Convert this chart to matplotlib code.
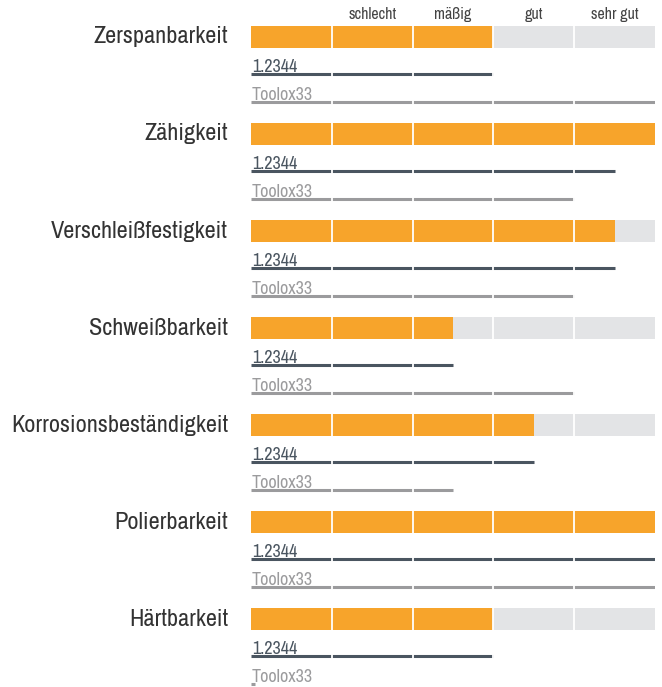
import matplotlib.pyplot as plt
from matplotlib import font_manager as fm

# Bewertungsskala 0..5 (5 Felder)
kategorien = ["Zerspanbarkeit", "Zähigkeit", "Verschleißfestigkeit", "Schweißbarkeit",
              "Korrosionsbeständigkeit", "Polierbarkeit", "Härtbarkeit"]
skala = ["schlecht", "mäßig", "gut", "sehr gut"]
werte_haupt = [3, 5, 4.5, 2.5, 3.5, 5, 3]
werte_12344 = [3, 4.5, 4.5, 2.5, 3.5, 5, 3]
werte_toolox = [5, 4, 4, 4, 2.5, 5, 0.05]
namen = ["1.2344", "Toolox33"]

ORANGE = "#f7a42b"
GRAU_BG = "#e3e4e6"
DUNKEL = "#4a5560"
HELL = "#9b9b9d"

# schmale Schrift suchen
schriften = fm.fontManager.ttflist
narrow = [f for f in schriften if "Narrow" in f.name or "Condensed" in f.name]
if narrow:
    plt.rcParams['font.family'] = [narrow[0].name, 'DejaVu Sans']
else:
    plt.rcParams['font.family'] = ['DejaVu Sans']

fig = plt.figure(figsize=(6.62, 6.87), dpi=100)
ax = fig.add_axes([251 / 662, 0, 404 / 662, 1])
ax.set_xlim(0, 5)
ax.set_ylim(6.70, -0.381)
ax.axis("off")

h = 0.227
off1 = 0.381
off2 = 0.67

for i, kat in enumerate(kategorien):
    ax.barh(i, 5, height=h, color=GRAU_BG, zorder=1)
    ax.barh(i, werte_haupt[i], height=h, color=ORANGE, zorder=2)
    ax.plot([0, werte_12344[i]], [i + off1, i + off1], color=DUNKEL, lw=2.2,
            solid_capstyle="butt", zorder=2)
    ax.plot([0, werte_toolox[i]], [i + off2, i + off2], color=HELL, lw=2.2,
            solid_capstyle="butt", zorder=2)
    ax.annotate(kat, (0, i), xytext=(-16.5, 0), textcoords="offset points",
                ha="right", va="center", fontsize=17.5, color="#333333")
    ax.annotate(namen[0], (0, i + off1), xytext=(0.5, 1.5), textcoords="offset points",
                ha="left", va="baseline", fontsize=13, color=DUNKEL)
    ax.annotate(namen[1], (0, i + off2), xytext=(0.5, 1.5), textcoords="offset points",
                ha="left", va="baseline", fontsize=13, color=HELL)
    # weiße Trennstriche zwischen den Feldern
    for k in range(1, 5):
        ax.plot([k, k], [i - h / 2 - 0.01, i + off2 + 0.03], color="white", lw=1.3, zorder=5)

for k, s in enumerate(skala):
    ax.text(k + 1.5, -0.23, s, ha="center", va="center", fontsize=11.5, color="#444444")

fig.savefig("out.png", dpi=100)
